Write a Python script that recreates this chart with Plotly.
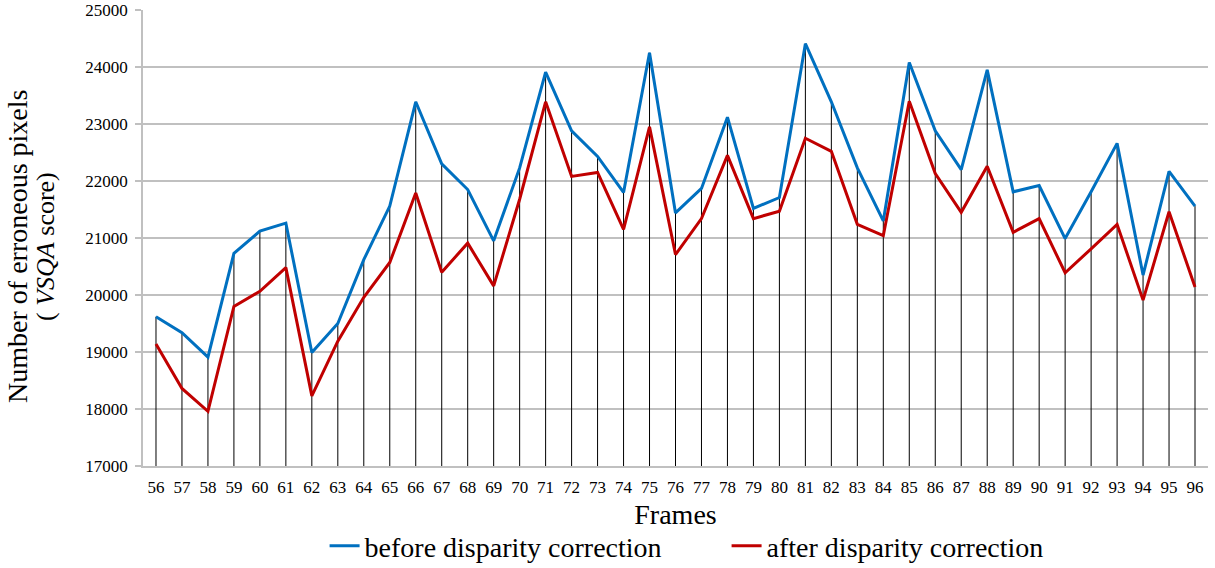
import plotly.graph_objects as go

# Frame indices on the x axis
frames = list(range(56, 97))

# Erroneous pixel counts (VSQA score) per frame
before_correction = [
    19620, 19340, 18910, 20730, 21120, 21260, 18990, 19500, 20620, 21560,
    23390, 22300, 21850, 20950, 22230, 23910, 22880, 22430, 21800, 24250,
    21440, 21870, 23120, 21520, 21710, 24410, 23390, 22230, 21300, 24080,
    22880, 22200, 23950, 21810, 21920, 20990, 21810, 22660, 20350, 22170,
    21560,
]
after_correction = [
    19140, 18360, 17960, 19800, 20065, 20480, 18230, 19190, 19960, 20570,
    21790, 20400, 20910, 20160, 21680, 23390, 22080, 22150, 21150, 22950,
    20710, 21340, 22450, 21340, 21470, 22750, 22520, 21240, 21040, 23400,
    22130, 21450, 22260, 21100, 21340, 20390, 20810, 21240, 19910, 21460,
    20140,
]

y_min, y_max, y_step = 17000, 25000, 1000

FONT = "Liberation Serif"
BLUE = "#0070C0"
RED = "#C00000"
GRID = "#c0c0c0"

# Vertical drop lines from the axis floor up to the higher of the two series
drop_x, drop_y = [], []
for f, b, a in zip(frames, before_correction, after_correction):
    drop_x += [f, f, None]
    drop_y += [y_min, max(b, a), None]

fig = go.Figure()
fig.add_trace(go.Scatter(
    x=drop_x, y=drop_y, mode="lines",
    line=dict(color="#000000", width=1),
    showlegend=False, hoverinfo="skip",
))
fig.add_trace(go.Scatter(
    x=frames, y=before_correction, mode="lines",
    name="before disparity correction",
    line=dict(color=BLUE, width=3),
))
fig.add_trace(go.Scatter(
    x=frames, y=after_correction, mode="lines",
    name="after disparity correction",
    line=dict(color=RED, width=3),
))

# Two-line y-axis title, drawn as rotated annotations
fig.add_annotation(
    text="Number of erroneous pixels",
    xref="paper", yref="paper", x=-0.1174, y=0.4825,
    xanchor="center", yanchor="middle", textangle=-90,
    showarrow=False, font=dict(family=FONT, size=28),
)
fig.add_annotation(
    text="( <i>VSQA</i> score)",
    xref="paper", yref="paper", x=-0.0911, y=0.4825,
    xanchor="center", yanchor="middle", textangle=-90,
    showarrow=False, font=dict(family=FONT, size=26),
)

fig.update_layout(
    width=1215, height=568,
    margin=dict(l=143, r=7, t=10, b=102, autoexpand=False),
    paper_bgcolor="white", plot_bgcolor="white",
    font=dict(family=FONT, color="#000000"),
    showlegend=True,
    legend=dict(
        orientation="h",
        x=0.1705, xanchor="left",
        y=-0.1754, yanchor="middle",
        font=dict(family=FONT, size=28),
        entrywidth=357, entrywidthmode="pixels",
        bgcolor="rgba(0,0,0,0)",
        tracegroupgap=0,
    ),
    xaxis=dict(
        range=[frames[0] - 0.5, frames[-1] + 0.5],
        tickmode="array", tickvals=frames, ticktext=[str(f) for f in frames],
        ticks="", showgrid=False, zeroline=False,
        showline=True, linecolor=GRID, linewidth=1.5,
        tickfont=dict(family=FONT, size=17),
        ticklabelstandoff=5, automargin=False,
        title=dict(text="Frames", font=dict(family=FONT, size=28), standoff=8),
    ),
    yaxis=dict(
        range=[y_min, y_max], dtick=y_step, tick0=y_min, tickformat="d",
        showgrid=True, gridcolor=GRID, gridwidth=1.5,
        zeroline=False,
        showline=True, linecolor=GRID, linewidth=1.5,
        ticks="outside", ticklen=6, tickcolor=GRID, tickwidth=1.5,
        tickfont=dict(family=FONT, size=17),
        ticklabelstandoff=4, automargin=False,
    ),
)

fig.write_html("out.html")
